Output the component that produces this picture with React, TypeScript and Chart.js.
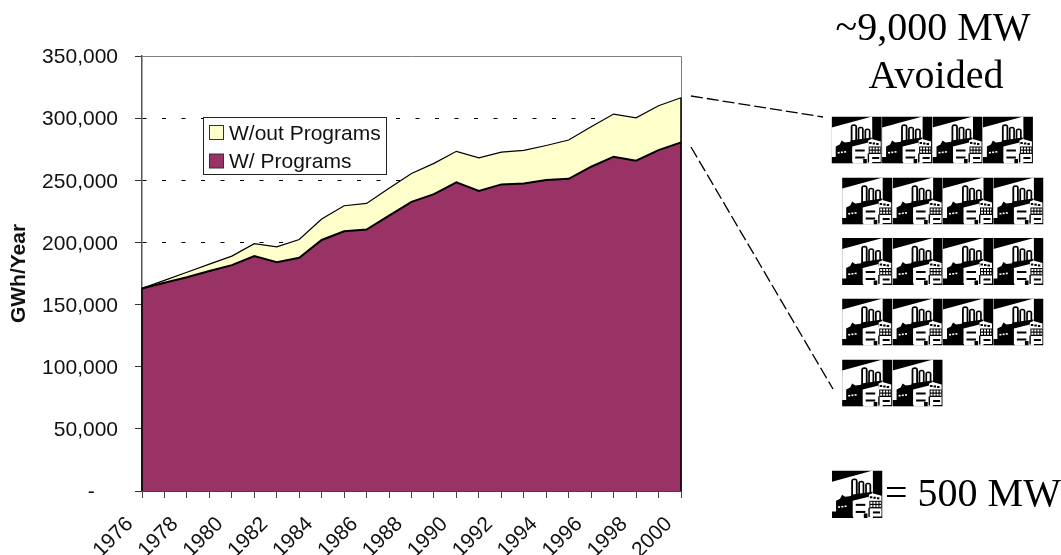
import React, { useEffect, useRef } from "react";
import { Chart, registerables } from "chart.js";

Chart.register(...registerables);

const years = ["1976","1977","1978","1979","1980","1981","1982","1983","1984","1985","1986","1987","1988","1989","1990","1991","1992","1993","1994","1995","1996","1997","1998","1999","2000"];
const withoutPrograms = [163000,169500,176000,182500,189000,199000,196500,202400,218800,229500,231400,243500,255500,263600,273300,268100,272700,274000,278000,282400,293000,303300,300300,310000,316400];
const withPrograms = [163000,167500,172000,177000,181700,189000,184000,187600,202000,209000,210400,221500,232700,238900,248300,241500,246700,247500,250200,251200,260900,269000,265700,274300,280500];
const seriesNames = ["W/out Programs", "W/ Programs"];
const seriesColors = ["#FFFFCC", "#993366"];
const axisTitle = "GWh/Year";
const headline = ["~9,000 MW", "Avoided"];
const keyLabel = "= 500 MW";
const SANS = '"Liberation Sans", Arial, sans-serif';

const plotFrame = {
  id: "plotFrame",
  beforeDatasetsDraw(chart: any) {
    const { ctx, chartArea: a } = chart;
    ctx.save();
    ctx.strokeStyle = "#808080";
    ctx.lineWidth = 1;
    ctx.beginPath();
    ctx.moveTo(a.left, a.top + 0.5);
    ctx.lineTo(a.right + 0.5, a.top + 0.5);
    ctx.lineTo(a.right + 0.5, a.bottom);
    ctx.stroke();
    ctx.restore();
  },
  afterDatasetsDraw(chart: any) {
    const { ctx, chartArea: a, scales } = chart;
    const y = scales.y;
    ctx.save();
    ctx.strokeStyle = "#000";
    ctx.lineWidth = 1.5;
    ctx.beginPath();
    ctx.moveTo(a.left, y.getPixelForValue(withPrograms[0]));
    ctx.lineTo(a.left, a.bottom);
    ctx.moveTo(a.right, y.getPixelForValue(withoutPrograms[withoutPrograms.length - 1]));
    ctx.lineTo(a.right, a.bottom);
    ctx.stroke();
    ctx.restore();
  },
  afterDraw(chart: any) {
    const { ctx } = chart;
    const boxX = 203.5, boxY = 117.5, boxW = 183, boxH = 57;
    ctx.save();
    ctx.fillStyle = "#fff";
    ctx.strokeStyle = "#222";
    ctx.lineWidth = 1;
    ctx.fillRect(boxX, boxY, boxW, boxH);
    ctx.strokeRect(boxX, boxY, boxW, boxH);
    ctx.font = `21px ${SANS}`;
    ctx.textAlign = "left";
    ctx.textBaseline = "alphabetic";
    seriesNames.forEach((name, i) => {
      const sy = 125.5 + i * 28.5;
      ctx.fillStyle = seriesColors[i];
      ctx.strokeStyle = "#333";
      ctx.fillRect(209.5, sy, 14, 14);
      ctx.strokeRect(209.5, sy, 14, 14);
      ctx.fillStyle = "#111";
      ctx.fillText(name, 229, 140 + i * 28.3);
    });
    ctx.restore();
  },
};

function FactoryDefs() {
  return (
    <defs>
      <filter id="soft" x="0" y="0" width="100%" height="100%">
        <feGaussianBlur stdDeviation="0.35" />
      </filter>
      <symbol id="factory" viewBox="0 0 50 47">
        <g filter="url(#soft)">
          <rect x="0" y="0" width="50" height="47" fill="#000" />
          <polygon points="0,11 40.5,0 40.5,47 0,47" fill="#fff" />
          {/* left dark workshop */}
          <polygon points="0,40.5 4,40.5 4,30 8,28 10,24 13,26 21,25 21,47 0,47" fill="#000" />
          <rect x="6" y="35.4" width="2" height="1.6" fill="#fff" />
          <rect x="9.2" y="35" width="2" height="1.6" fill="#fff" />
          <rect x="12.4" y="34.6" width="2" height="1.6" fill="#fff" />
          {/* chimneys */}
          <rect x="19" y="7.8" width="6.4" height="20" rx="3" fill="#000" />
          <rect x="20.8" y="9.6" width="2.8" height="18" fill="#fff" />
          <rect x="26" y="10.2" width="6" height="17" rx="2.8" fill="#000" />
          <rect x="27.7" y="11.9" width="2.6" height="15" fill="#fff" />
          <rect x="32.8" y="12" width="6" height="14" rx="2.8" fill="#000" />
          <rect x="34.5" y="13.7" width="2.6" height="12" fill="#fff" />
          <polygon points="17,31 19,24 40,21 40,28 20,33" fill="#000" />
          {/* main hall */}
          <polygon points="20.5,30 36.5,26 36.5,45.5 20.5,45.5" fill="#fff" />
          <rect x="23.5" y="33" width="9.5" height="2" fill="#000" />
          <rect x="23.5" y="40" width="9.5" height="2" fill="#000" />
          <rect x="31.5" y="42.5" width="3.6" height="4.5" fill="#000" />
          {/* right hall */}
          <polygon points="36.5,24 40,22.5 49,25 49,45.5 36.5,45.5" fill="#fff" />
          <rect x="37.5" y="25.5" width="2.4" height="2" fill="#000" />
          <rect x="41" y="26" width="2.4" height="2" fill="#000" />
          <rect x="44.5" y="26.5" width="2.4" height="2" fill="#000" />
          <rect x="37" y="30" width="12" height="7.5" fill="#000" />
          <rect x="38" y="31" width="2" height="2" fill="#fff" />
          <rect x="41" y="31" width="2" height="2" fill="#fff" />
          <rect x="44" y="31" width="2" height="2" fill="#fff" />
          <rect x="47" y="31" width="1.4" height="2" fill="#fff" />
          <rect x="38" y="34.2" width="2" height="2" fill="#fff" />
          <rect x="41" y="34.2" width="2" height="2" fill="#fff" />
          <rect x="44" y="34.2" width="2" height="2" fill="#fff" />
          <rect x="47" y="34.2" width="1.4" height="2" fill="#fff" />
          <rect x="40.5" y="40.5" width="7" height="2" fill="#000" />
          <rect x="36" y="37" width="1.4" height="9" fill="#000" />
        </g>
      </symbol>
    </defs>
  );
}

const iconRows: { x: number; y: number; n: number }[] = [
  { x: 831.5, y: 116.5, n: 4 },
  { x: 842, y: 177.5, n: 4 },
  { x: 842, y: 238, n: 4 },
  { x: 842, y: 298.5, n: 4 },
  { x: 842, y: 359.5, n: 2 },
];

export default function App() {
  const ref = useRef<HTMLCanvasElement | null>(null);
  useEffect(() => {
    if (!ref.current) return;
    const chart = new Chart(ref.current, {
      type: "line",
      data: {
        labels: years,
        datasets: [
          {
            label: seriesNames[0],
            data: withoutPrograms,
            backgroundColor: seriesColors[0],
            borderColor: "#000",
            borderWidth: 1.2,
            fill: "origin",
            pointRadius: 0,
            tension: 0,
            order: 2,
          },
          {
            label: seriesNames[1],
            data: withPrograms,
            backgroundColor: seriesColors[1],
            borderColor: "#000",
            borderWidth: 2,
            fill: "origin",
            pointRadius: 0,
            tension: 0,
            order: 1,
          },
        ],
      },
      options: {
        responsive: false,
        animation: false,
        layout: { padding: { left: 0, top: 56, right: 380, bottom: 0 } },
        plugins: { legend: { display: false }, tooltip: { enabled: false }, title: { display: false } },
        scales: {
          x: {
            type: "category",
            offset: false,
            afterFit: (s: any) => { s.height = 64; },
            border: { color: "#444", width: 1 },
            grid: { drawOnChartArea: false, drawTicks: true, tickLength: 7, tickColor: "#444" },
            ticks: {
              autoSkip: false,
              maxRotation: 45,
              minRotation: 45,
              padding: 14,
              labelOffset: -12,
              color: "#111",
              font: { family: SANS, size: 21 },
              callback: (_v: any, i: number) => (i % 2 === 0 ? years[i] : ""),
            },
          },
          y: {
            min: 0,
            max: 350000,
            afterFit: (s: any) => { s.width = 142; },
            border: { color: "#555", width: 1.5, dash: [4, 15.5] },
            grid: {
              color: "#000",
              lineWidth: 1,
              tickLength: 7,
              tickColor: "#333",
              tickBorderDash: [],
            },
            ticks: {
              stepSize: 50000,
              padding: 17,
              labelOffset: 1.5,
              color: "#111",
              font: { family: SANS, size: 21 },
              callback: (v: any) => (v === 0 ? "-\u00A0\u00A0\u00A0\u00A0" : Number(v).toLocaleString("en-US")),
            },
            title: {
              display: true,
              text: axisTitle,
              color: "#111",
              font: { family: SANS, size: 21, weight: "bold" },
              padding: { top: 7, bottom: 0 },
            },
          },
        },
      },
      plugins: [plotFrame],
    } as any);
    return () => chart.destroy();
  }, []);

  return (
    <div style={{ position: "fixed", left: 0, top: 0, width: 1061, height: 555, overflow: "hidden", background: "#fff" }}>
      <canvas ref={ref} width={1061} height={555} style={{ position: "absolute", left: 0, top: 0 }} />
      <svg width={1061} height={555} style={{ position: "absolute", left: 0, top: 0 }}>
        <FactoryDefs />
        <line x1={691} y1={96} x2={823} y2={117} stroke="#000" strokeWidth={1.3} strokeDasharray="12 4" />
        <line x1={691} y1={147} x2={833} y2={389} stroke="#000" strokeWidth={1.3} strokeDasharray="12 4" />
        {iconRows.flatMap((r, ri) =>
          Array.from({ length: r.n }, (_, i) => (
            <use key={`${ri}-${i}`} href="#factory" x={r.x + i * 50.4} y={r.y} width={50.4} height={47} />
          ))
        )}
        <use href="#factory" x={832} y={470.5} width={50.5} height={47.5} />
        <g fontFamily='"Liberation Serif", "Times New Roman", serif' fontSize={40} fill="#000">
          <text x={933} y={40} textAnchor="middle">{headline[0]}</text>
          <text x={936} y={88} textAnchor="middle">{headline[1]}</text>
          <text x={885} y={506}>{keyLabel}</text>
        </g>
      </svg>
    </div>
  );
}
